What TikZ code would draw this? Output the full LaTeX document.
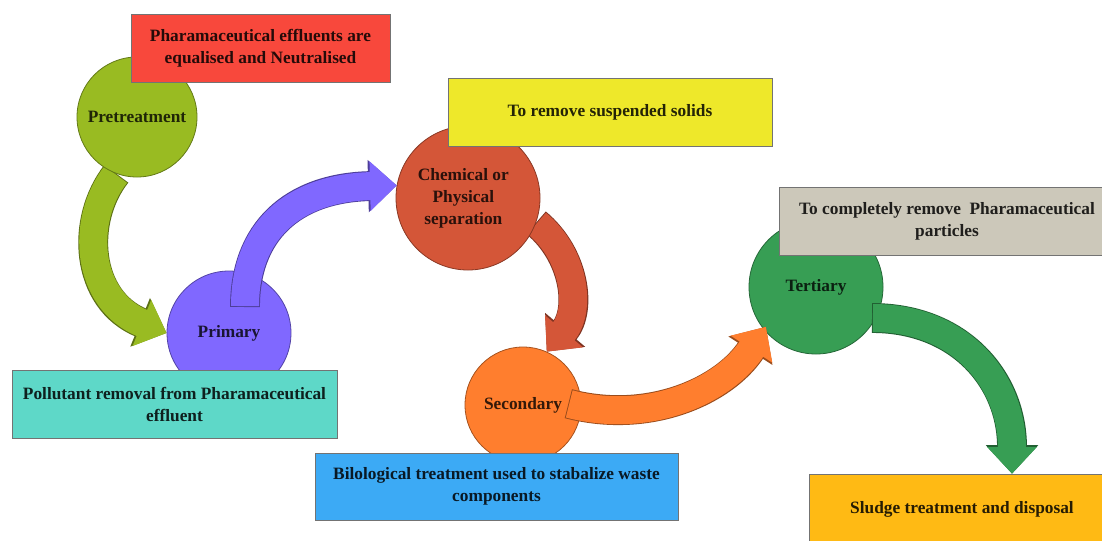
\documentclass[tikz,border=0pt]{standalone}
\usepackage{fontspec}
\setmainfont{Liberation Serif}
\usetikzlibrary{arrows.meta,backgrounds}
\definecolor{cred}{RGB}{248,72,60}
\definecolor{cpre}{RGB}{153,187,34}
\definecolor{cprim}{RGB}{128,104,255}
\definecolor{cteal}{RGB}{94,216,200}
\definecolor{cchem}{RGB}{212,86,56}
\definecolor{cyel}{RGB}{238,232,42}
\definecolor{csec}{RGB}{255,126,46}
\definecolor{cblue}{RGB}{60,170,245}
\definecolor{cter}{RGB}{55,158,84}
\definecolor{cgray}{RGB}{204,200,186}
\definecolor{csludge}{RGB}{255,186,20}
\begin{document}
\begin{tikzpicture}[x=0.75pt,y=-0.75pt,
  txt/.style={font=\bfseries\fontsize{13}{16.5}\selectfont, align=center},
  circ/.style={circle, inner sep=0pt, minimum size=#1, txt},
  cfill/.style={fill=#1, draw=#1!65!black, line width=0.6pt, text=#1!20!black},
  box/.style args={#1/#2/#3}{rectangle, inner sep=0pt, minimum width=#1, minimum height=#2,
     fill=#3, draw=black!55, line width=0.7pt, txt, text=#3!15!black},
  barrow/.style={line width=21pt, draw=#1, shorten <=0.7pt, -{Triangle[width=36pt,length=20pt]},
     preaction={draw=#1!60!black, line width=22.4pt, shorten <=0pt, -{Triangle[width=38pt,length=21.4pt]}}}]
\useasboundingbox (0,0) rectangle (1102,540);

% circles
\node[circ=90pt, cfill=cpre] (pre) at (137,117) {Pretreatment};
\node[circ=93pt, cfill=cprim] (prim) at (229,333) {Primary};
\node[circ=108pt, cfill=cchem] (chem) at (468,198) {\raisebox{9pt}{\parbox{90pt}{\centering Chemical or\\ Physical\\ separation}}\hspace*{7pt}};
\node[circ=87pt, cfill=csec] (sec) at (523,405) {Secondary};
\node[circ=100.5pt, cfill=cter] (ter) at (816,287) {Tertiary};

% arrows beneath circles
\begin{scope}[on background layer]
\fill[white] (0,0) rectangle (1102,540);
\draw[barrow=cpre] (pre.250) .. controls (80,220) and (85,300) .. (prim.west);
\draw[barrow=cchem] (chem.-20) .. controls (575,255) and (582,310) .. (sec.66);
\end{scope}

% arrows above circles
\draw[barrow=cprim] ([xshift=12pt,yshift=19.5pt]prim.center) .. controls (245,232) and (292,188) .. (chem.170);
\draw[barrow=csec] ([xshift=34pt,yshift=1pt]sec.center) .. controls (650,425) and (725,390) .. ([yshift=4pt]ter.222);

% boxes
\node[box=194.25pt/51pt/cred] (rbox) at (260.5,48) {Pharamaceutical effluents are\\ equalised and Neutralised};
\node[box=243.75pt/51pt/cteal] (tbox) at (174.5,404) {Pollutant removal from Pharamaceutical\\ effluent};
\node[box=243pt/51pt/cyel] (ybox) at (610,112) {To remove suspended solids};
\node[box=272.25pt/50.25pt/cblue] (bbox) at (496.5,486.5) {Bilological treatment used to stabalize waste\\ components};
\node[box=252pt/51pt/cgray] (gbox) at (947,221) {To completely remove \ Pharamaceutical\\ particles};
\node[box=229.5pt/53pt/csludge] (sludge) at (962,509.5) {Sludge treatment and disposal};

\draw[barrow=cter] ([xshift=42pt,yshift=-23.25pt]ter.center) .. controls (960,318) and (1012,380) .. ([xshift=37.5pt]sludge.north);
\end{tikzpicture}
\end{document}
